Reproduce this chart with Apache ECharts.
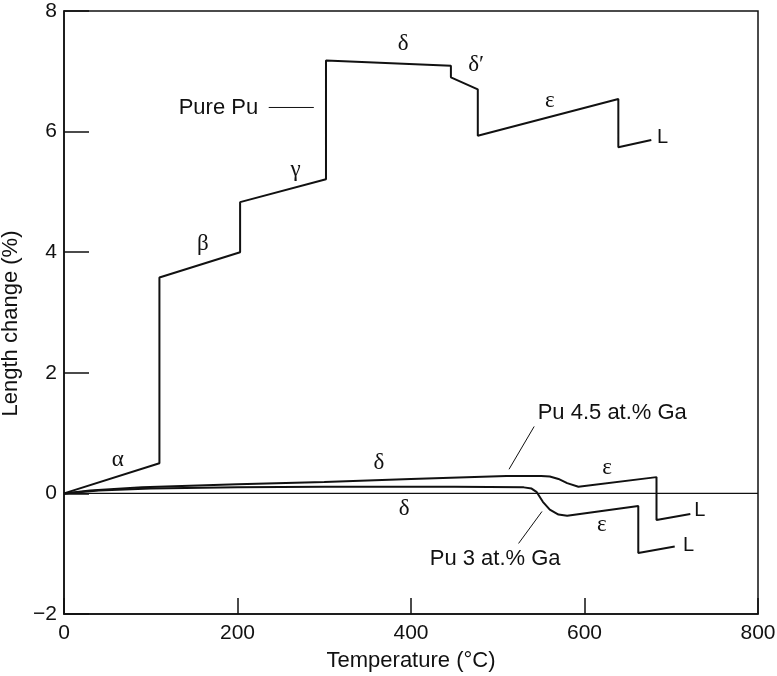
<!DOCTYPE html>
<html>
<head>
<meta charset="utf-8">
<script src="https://cdn.jsdelivr.net/npm/echarts@6/dist/echarts.min.js"></script>
<style>html,body{margin:0;padding:0;background:#fff;}#c{width:777px;height:676px;}</style>
</head>
<body>
<div id="c"></div>
<script>
// Pure Pu dilatation curve [temperature °C, length change %]
var purePu = [[0,0],[110,0.50],[110,3.58],[203,4.00],[203,4.83],[302,5.21],[302,7.18],[446,7.09],[446,6.90],[477,6.70],[477,5.93],[639,6.54],[639,5.74],[677,5.86]];
// Pu 4.5 at.% Ga
var pu45Ga = [[0,0],[30,0.05],[90,0.10],[200,0.15],[300,0.19],[400,0.24],[510,0.29],[550,0.29],[560,0.28],[570,0.24],[580,0.17],[593,0.11],[683,0.27],[683,-0.44],[722,-0.34]];
// Pu 3 at.% Ga
var pu3Ga = [[0,0],[40,0.05],[100,0.08],[200,0.10],[300,0.11],[450,0.11],[530,0.10],[539,0.08],[545,0.02],[552,-0.14],[560,-0.27],[570,-0.35],[580,-0.37],[662,-0.21],[662,-0.99],[704,-0.88]];
// phase labels [x, y, text]
var phaseLabels = [[62,0.55,'α'],[160,4.14,'β'],[267,5.36,'γ'],[391,7.45,'δ'],[475,7.10,'δ′'],[560,6.51,'ε'],
  [363,0.50,'δ'],[392,-0.26,'δ'],[626,0.42,'ε'],[620,-0.52,'ε']];
var liquidLabels = [[690,5.90,'L'],[733,-0.29,'L'],[720,-0.87,'L']];
var curveLabels = [[178,6.39,'Pure Pu'],[632,1.33,'Pu 4.5 at.% Ga'],[497,-1.08,'Pu 3 at.% Ga']];
var leaders = [[[236,6.40],[288,6.40]],[[542,1.11],[513,0.40]],[[551,-0.30],[524,-0.83]]];
var xTicks = [0,200,400,600,800];
var yTicks = [-2,0,2,4,6,8];

var chart = echarts.init(document.getElementById('c'));
var sans = 'Liberation Sans, Arial, sans-serif';
var serif = 'Liberation Serif, DejaVu Serif, serif';
var ink = '#111';
function lineSeries(d, w) {
  return {type:'line', data:d, symbol:'none', silent:true, animation:false,
    lineStyle:{color:ink, width:w}, z:3};
}
function textSeries(d, font, size) {
  return {type:'scatter', data:d, symbolSize:0, silent:true, animation:false, z:5,
    itemStyle:{color:ink, opacity:1},
    label:{show:true, position:'inside', formatter:function(p){return p.data[2];},
      color:ink, opacity:1, textBorderWidth:0, fontFamily:font, fontSize:size}};
}
var series = [
  lineSeries(purePu, 2),
  lineSeries(pu45Ga, 2),
  lineSeries(pu3Ga, 2),
  {type:'line', data:[[xTicks[0],0],[xTicks[xTicks.length-1],0]], symbol:'none', silent:true, animation:false,
    lineStyle:{color:ink, width:1.3}, z:2},
  textSeries(phaseLabels, serif, 23),
  textSeries(liquidLabels, sans, 20),
  textSeries(curveLabels, sans, 22)
];
leaders.forEach(function(l){ series.push(lineSeries(l, 1)); });

chart.setOption({
  backgroundColor:'#fff',
  animation:false,
  grid:{left:64, top:11, right:19, bottom:62, show:true, borderColor:ink, borderWidth:1.5,
    containLabel:false, outerBoundsMode:'none'},
  xAxis:{type:'value', min:xTicks[0], max:xTicks[xTicks.length-1], interval:200,
    name:'Temperature (°C)', nameLocation:'middle', nameGap:36,
    nameTextStyle:{fontFamily:sans, fontSize:22, color:ink},
    axisLine:{show:true, onZero:false, lineStyle:{color:ink, width:1.5}},
    axisTick:{show:true, inside:true, length:16, lineStyle:{color:ink, width:1.5}},
    axisLabel:{fontFamily:sans, fontSize:21, color:ink, margin:9},
    splitLine:{show:false}},
  yAxis:{type:'value', min:yTicks[0], max:yTicks[yTicks.length-1], interval:2,
    name:'Length change (%)', nameLocation:'middle', nameGap:32, nameRotate:90,
    nameTextStyle:{fontFamily:sans, fontSize:22, color:ink, padding:[0,22,0,0]},
    axisLine:{show:true, onZero:false, lineStyle:{color:ink, width:1.5}},
    axisTick:{show:true, inside:true, length:25, lineStyle:{color:ink, width:1.5}},
    axisLabel:{fontFamily:sans, fontSize:21, color:ink, margin:7,
      formatter:function(v){return v<0 ? '\u2212'+Math.abs(v) : String(v);}},
    splitLine:{show:false}},
  series:series
});
</script>
</body>
</html>
